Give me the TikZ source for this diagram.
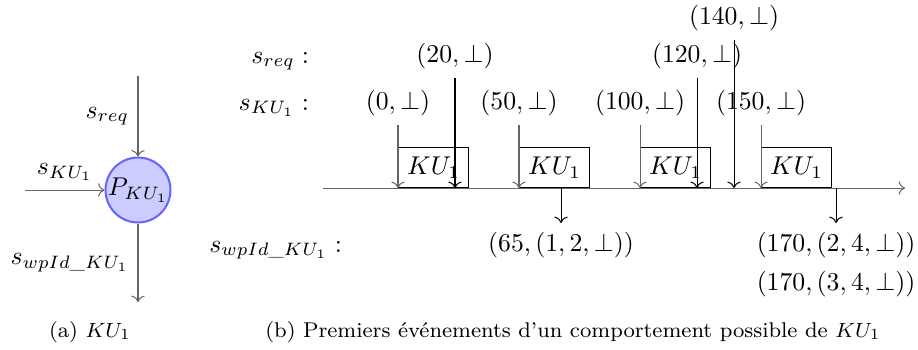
\documentclass[tikz,border=0pt]{standalone}
\usepackage{amsmath,amssymb}
\usepackage{xcolor}
\usepackage{tikz}
\usetikzlibrary{arrows.meta,positioning,calc}

\begin{document}
\begin{tikzpicture}[
  x=0.389pt, y=-0.389pt,
  proc/.style={circle, draw=blue!60, fill=blue!20, inner sep=0pt, thick},
  task/.style={draw, anchor=south west, minimum width=27.2pt, minimum height=15.6pt, inner sep=0pt},
  capt/.style={anchor=base, font=\fontsize{8.3}{10}\selectfont},
  inarr/.style={->, black!60},
  evarr/.style={->}
]
  \useasboundingbox (0,0) rectangle (918,349);

  % (a) the process
  \node[proc] (p) at (138,190) {$P_{KU_1}$};
  \coordinate (reqin) at (138,76);
  \coordinate (kuin) at (25,190);
  \coordinate (wpout) at (138,302);
  \draw[inarr] (reqin) -- node[left, black] {$s_{req}$} (p);
  \draw[inarr] (kuin) -- node[above, black] {$s_{KU_1}$} (p);
  \draw[inarr] (p) -- node[left, black] {$s_{wpId\_KU_1}$} (wpout);
  \node[capt] (capa) at (90,337) {(a) $KU_1$};

  % (b) the time line
  \coordinate (t0) at (323,188);
  \coordinate (tend) at (905,188);
  \draw[inarr] (t0) -- (tend);

  \node[anchor=base east] (rowreq) at (318,63) {$s_{req}:$};
  \node[anchor=base east] (rowku) at (318,110) {$s_{KU_1}:$};
  \node[anchor=base east] (rowwp) at (351,252) {$s_{wpId\_KU_1}:$};

  \node[task] (b1) at (398,188) {$KU_1$};
  \node[task] (b2) at (519,188) {$KU_1$};
  \node[task] (b3) at (640,188) {$KU_1$};
  \node[task] (b4) at (761,188) {$KU_1$};

  % inputs on s_KU1
  \coordinate (e0) at (398,188);
  \coordinate (e50) at (519,188);
  \coordinate (e100) at (640,188);
  \coordinate (e150) at (761,188);
  \node[above=0pt of {(398,125)}] (k0) {$(0,\perp)$};
  \node[above=0pt of {(519,125)}] (k50) {$(50,\perp)$};
  \node[above=0pt of {(640,125)}] (k100) {$(100,\perp)$};
  \node[above=0pt of {(761,125)}] (k150) {$(150,\perp)$};
  \draw[inarr] (k0) -- (e0);
  \draw[inarr] (k50) -- (e50);
  \draw[inarr] (k100) -- (e100);
  \draw[inarr] (k150) -- (e150);

  % inputs on s_req
  \coordinate (e20) at (455,188);
  \coordinate (e120) at (697,188);
  \coordinate (e140) at (734,188);
  \node[above=0pt of {(455,78)}] (r20) {$(20,\perp)$};
  \node[above=0pt of {(697,78)}] (r120) {$(120,\perp)$};
  \node[above=0pt of {(734,40)}] (r140) {$(140,\perp)$};
  \draw[evarr] (r20) -- (e20);
  \draw[evarr] (r120) -- (e120);
  \draw[evarr] (r140) -- (e140);

  % outputs on s_wpId_KU1
  \coordinate (o65) at (561,188);
  \coordinate (o170) at (836,188);
  \node[below=0pt of {(561,223)}] (w65) {$(65,(1,2,\perp))$};
  \node[below=0pt of {(836,223)}] (w170a) {$(170,(2,4,\perp))$};
  \node[below=-1.9pt of w170a] (w170b) {$(170,(3,4,\perp))$};
  \draw[evarr] (o65) -- (w65);
  \draw[evarr] (o170) -- (w170a);

  \node[capt] (capb) at (573,337) {(b) Premiers événements d'un comportement possible de $KU_1$};
\end{tikzpicture}
\end{document}
